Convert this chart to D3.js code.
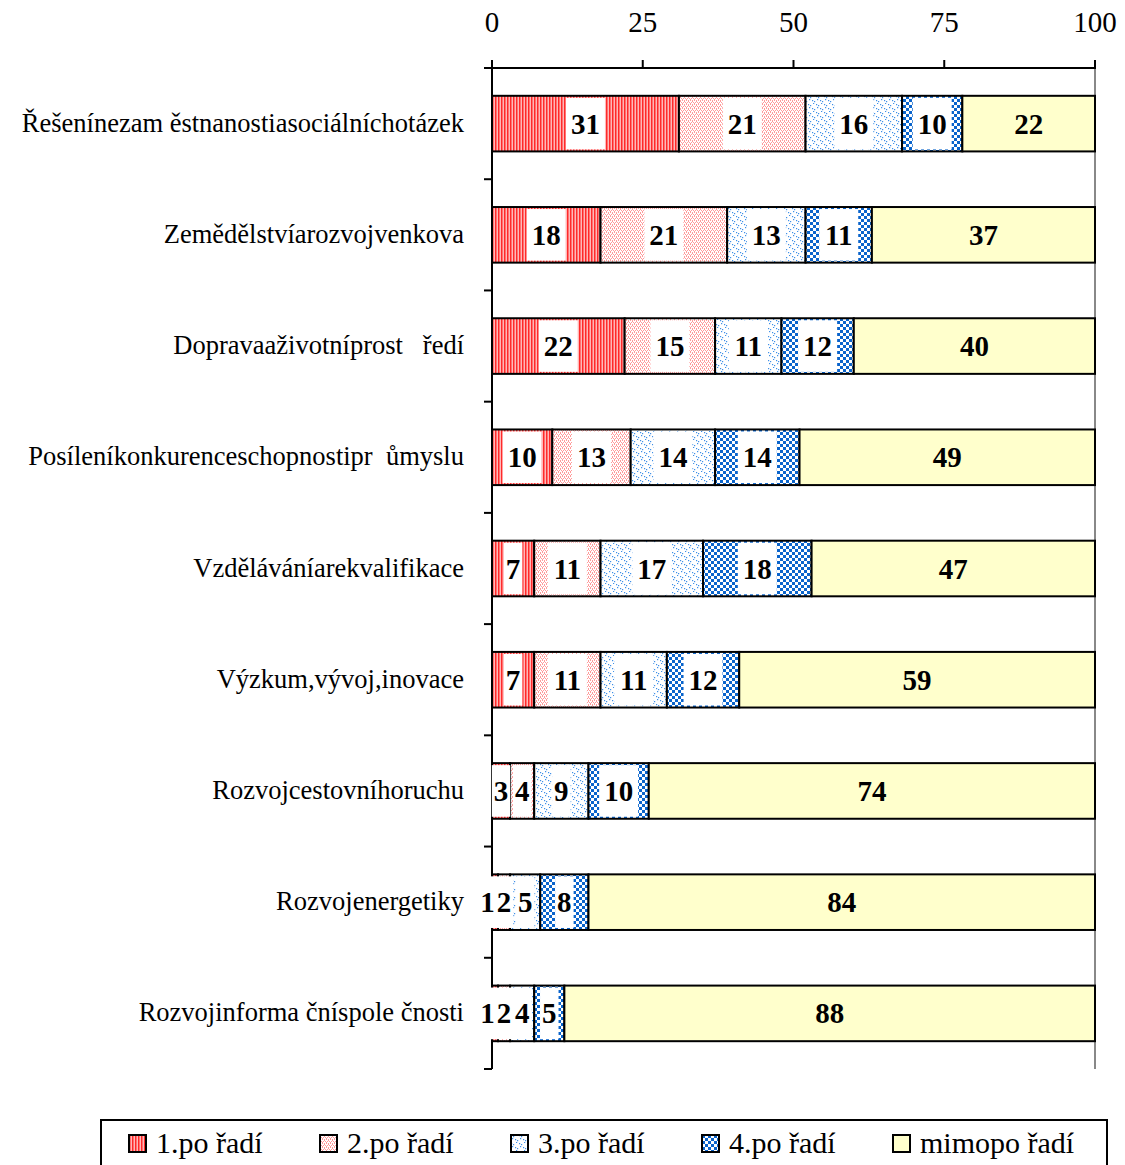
<!DOCTYPE html>
<html>
<head>
<meta charset="utf-8">
<script src="https://cdn.jsdelivr.net/npm/d3@7"></script>
<style>
  body { margin: 0; background: #fff; }
</style>
</head>
<body>
<div class="container"></div>
<script>
// categories as printed in the source (spacing kept)
var categories = [
  'Řešenínezam ěstnanostiasociálníchotázek',
  'Zemědělstvíarozvojvenkova',
  'Dopravaaživotníprost   ředí',
  'Posíleníkonkurenceschopnostipr  ůmyslu',
  'Vzděláváníarekvalifikace',
  'Výzkum,vývoj,inovace',
  'Rozvojcestovníhoruchu',
  'Rozvojenergetiky',
  'Rozvojinforma čníspole čnosti'
]
var seriesNames = ['1.po řadí', '2.po řadí', '3.po řadí', '4.po řadí', 'mimopo řadí']
var first  = [31, 18, 22, 10, 7, 7, 3, 1, 1]
var second = [21, 21, 15, 13, 11, 11, 4, 2, 2]
var third  = [16, 13, 11, 14, 17, 11, 9, 5, 4]
var fourth = [10, 11, 12, 14, 18, 12, 10, 8, 5]
var outside = [22, 37, 40, 49, 47, 59, 74, 84, 88]
var xTicks = [0, 25, 50, 75, 100]

var serif = '"Liberation Serif", "Times New Roman", "DejaVu Serif", serif'
var width = 1125, height = 1165
var svg = d3.select('.container').append('svg')
  .attr('width', width)
  .attr('height', height)
  .attr('font-family', serif)

var x = d3.scaleLinear().domain([0, 100]).range([492, 1095])
var y = d3.scaleBand().domain(categories).range([68, 1069])
  .paddingInner(0.5).paddingOuter(0.25)

// fill patterns
var defs = svg.append('defs')
var p1 = defs.append('pattern').attr('id', 'p1').attr('patternUnits', 'userSpaceOnUse')
  .attr('width', 3).attr('height', 3)
p1.append('rect').attr('width', 3).attr('height', 3).attr('fill', '#ffb8b8')
p1.append('rect').attr('width', 1.5).attr('height', 3).attr('fill', '#ff2a2a')

var p2 = defs.append('pattern').attr('id', 'p2').attr('patternUnits', 'userSpaceOnUse')
  .attr('width', 4).attr('height', 4)
p2.append('rect').attr('width', 4).attr('height', 4).attr('fill', '#fff')
;[[0, 0], [2, 0], [1, 2], [3, 2], [0, 1], [2, 3]].forEach(function (d) {
  p2.append('rect').attr('x', d[0]).attr('y', d[1]).attr('width', 1).attr('height', 1).attr('fill', '#ff9a9a')
})

var p3 = defs.append('pattern').attr('id', 'p3').attr('patternUnits', 'userSpaceOnUse')
  .attr('width', 8).attr('height', 8)
p3.append('rect').attr('width', 8).attr('height', 8).attr('fill', '#fff')
;[[0, 0], [2, 1], [4, 4], [6, 5], [1, 3], [5, 7]].forEach(function (d) {
  p3.append('rect').attr('x', d[0]).attr('y', d[1]).attr('width', 1.2).attr('height', 1.2).attr('fill', '#3f90e8')
})

var p4 = defs.append('pattern').attr('id', 'p4').attr('patternUnits', 'userSpaceOnUse')
  .attr('width', 6).attr('height', 6)
p4.append('rect').attr('width', 6).attr('height', 6).attr('fill', '#fff')
p4.append('rect').attr('width', 3).attr('height', 3).attr('fill', '#0a64cc')
p4.append('rect').attr('x', 3).attr('y', 3).attr('width', 3).attr('height', 3).attr('fill', '#0a64cc')

var fills = ['url(#p1)', 'url(#p2)', 'url(#p3)', 'url(#p4)', '#ffffcc']

// build rows
var rows = categories.map(function (c, i) {
  var vals = [first[i], second[i], third[i], fourth[i], outside[i]]
  var acc = 0
  var segs = vals.map(function (v, k) {
    var s = { cat: c, k: k, v: v, x0: acc, x1: acc + v }
    acc += v
    return s
  })
  return { cat: c, segs: segs }
})

// right border (gray)
svg.append('line')
  .attr('x1', x(100)).attr('x2', x(100)).attr('y1', 60).attr('y2', 1069)
  .attr('stroke', '#888').attr('stroke-width', 2)

// top axis
svg.append('line')
  .attr('x1', x(0) - 2).attr('x2', x(100) + 1).attr('y1', 68).attr('y2', 68)
  .attr('stroke', '#000').attr('stroke-width', 2)
svg.selectAll('.xtick').data(xTicks).enter().append('line')
  .attr('x1', function (d) { return x(d) }).attr('x2', function (d) { return x(d) })
  .attr('y1', 60).attr('y2', 68)
  .attr('stroke', '#000').attr('stroke-width', 2)
svg.selectAll('.xlab').data(xTicks).enter().append('text')
  .attr('x', function (d) { return x(d) }).attr('y', 32)
  .attr('text-anchor', 'middle')
  .style('font-size', '29px')
  .text(function (d) { return d })

// left axis
svg.append('line')
  .attr('x1', x(0)).attr('x2', x(0)).attr('y1', 60).attr('y2', 1069)
  .attr('stroke', '#000').attr('stroke-width', 2)
svg.selectAll('.ytick').data(d3.range(categories.length + 1)).enter().append('line')
  .attr('x1', x(0) - 8).attr('x2', x(0))
  .attr('y1', function (d) { return y.range()[0] + d * y.step() })
  .attr('y2', function (d) { return y.range()[0] + d * y.step() })
  .attr('stroke', '#000').attr('stroke-width', 2)

// category labels
svg.selectAll('.ylab').data(categories).enter().append('text')
  .attr('x', 464)
  .attr('y', function (d) { return y(d) + y.bandwidth() / 2 + 8 })
  .attr('text-anchor', 'end')
  .attr('xml:space', 'preserve')
  .style('font-size', '26.5px')
  .style('white-space', 'pre')
  .text(function (d) { return d })

// bars
var rowG = svg.selectAll('.row').data(rows).enter().append('g')
rowG.selectAll('rect').data(function (d) { return d.segs }).enter().append('rect')
  .attr('x', function (d) { return x(d.x0) })
  .attr('y', function (d) { return y(d.cat) })
  .attr('width', function (d) { return x(d.x1) - x(d.x0) })
  .attr('height', y.bandwidth())
  .attr('fill', function (d) { return fills[d.k] })
  .attr('stroke', '#000').attr('stroke-width', 2)

// value labels, nudged left when they would collide
var digitW = 14.5
rows.forEach(function (r) {
  var labs = r.segs.map(function (s) {
    return { s: s, cx: x((s.x0 + s.x1) / 2), w: String(s.v).length * digitW }
  })
  for (var i = labs.length - 2; i >= 0; i--) {
    var limit = labs[i + 1].cx - labs[i + 1].w / 2 - 2
    if (labs[i].cx + labs[i].w / 2 > limit) labs[i].cx = limit - labs[i].w / 2
  }
  var g = svg.append('g')
  labs.forEach(function (l) {
    if (l.s.k < 4) {
      var pad = l.w < 20 ? 2 : 5
      g.append('rect')
        .attr('x', l.cx - l.w / 2 - pad)
        .attr('y', y(r.cat) + 2)
        .attr('width', l.w + pad * 2)
        .attr('height', y.bandwidth() - 4)
        .attr('fill', '#fff')
    }
    g.append('text')
      .attr('x', l.cx)
      .attr('y', y(r.cat) + y.bandwidth() / 2 + 10)
      .attr('text-anchor', 'middle')
      .style('font-size', '29px')
      .style('font-weight', 'bold')
      .text(l.s.v)
  })
})

// legend
var legend = svg.append('g')
legend.append('rect')
  .attr('x', 101).attr('y', 1120).attr('width', 1006).attr('height', 60)
  .attr('fill', '#fff').attr('stroke', '#000').attr('stroke-width', 2)
var items = legend.selectAll('.item').data(seriesNames).enter().append('g')
  .attr('transform', function (d, i) { return 'translate(' + (129 + i * 191) + ',1135)' })
items.append('rect')
  .attr('width', 17).attr('height', 17)
  .attr('fill', function (d, i) { return fills[i] })
  .attr('stroke', '#000').attr('stroke-width', 2)
items.append('text')
  .attr('x', 27).attr('y', 18)
  .style('font-size', '30px')
  .text(function (d) { return d })
</script>
</body>
</html>
